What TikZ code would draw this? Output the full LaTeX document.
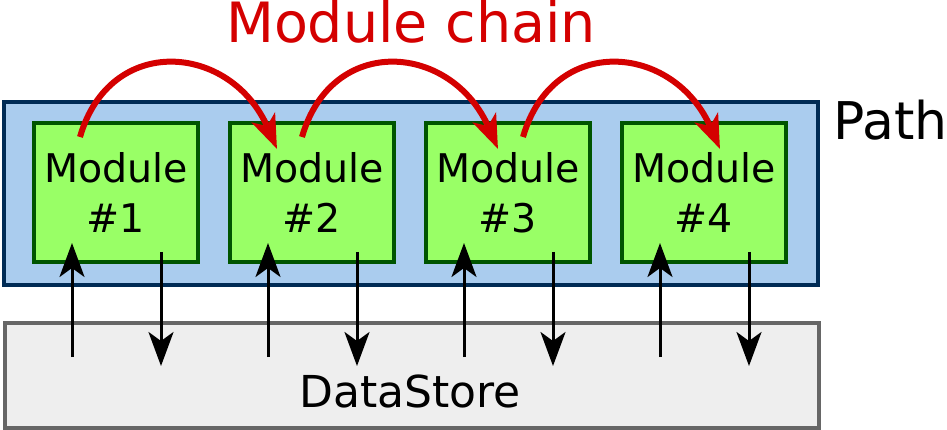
\documentclass[tikz,border=0pt]{standalone}
\usepackage{fontspec}
\setmainfont{DejaVu Sans}
\usetikzlibrary{arrows.meta,calc}
\definecolor{pathfill}{HTML}{AACCEE}
\definecolor{pathdraw}{HTML}{002B55}
\definecolor{modfill}{HTML}{99FF66}
\definecolor{moddraw}{HTML}{005500}
\definecolor{dsfill}{HTML}{EEEEEE}
\definecolor{dsdraw}{HTML}{666666}
\definecolor{chainred}{HTML}{D40000}
\begin{document}
\begin{tikzpicture}[x=1pt,y=-1pt,
  pathbox/.style={draw=pathdraw,fill=pathfill,line width=4pt,minimum width=814pt,minimum height=183pt,inner sep=0pt},
  modbox/.style={draw=moddraw,fill=modfill,line width=4pt,minimum width=164pt,minimum height=139pt,inner sep=0pt,align=center,font=\fontsize{39.5}{50}\selectfont},
  dsbox/.style={draw=dsdraw,fill=dsfill,line width=4pt,minimum width=814pt,minimum height=104.5pt,inner sep=0pt},
  lbl/.style={inner sep=0pt,anchor=base},
  io/.style={line width=3pt,-{Stealth[length=34pt,width=25pt,inset=9pt]}},
  chainarrow/.style={chainred,line width=6pt,-{Stealth[length=34pt,width=25pt,inset=9pt]}}]
\useasboundingbox (0,0) rectangle (947,430);
\fill[white] (0,0) rectangle (947,430);
% boxes
\node[dsbox] (ds) at (412,375.25) {};
\node[lbl,font=\fontsize{44}{50}\selectfont] (dslabel) at (410,407) {DataStore};
\node[pathbox] (path) at (411,193.5) {};
\node[lbl,anchor=base west,font=\fontsize{52}{60}\selectfont] (pathlabel) at (833,140) {Path};
\node[lbl,font=\fontsize{55.5}{60}\selectfont,text=chainred] (chainlabel) at (411,43) {Module chain};
% modules
\node[modbox] (m1) at (116,192.5) {Module\\\#1};
\node[modbox] (m2) at (312,192.5) {Module\\\#2};
\node[modbox] (m3) at (508,192.5) {Module\\\#3};
\node[modbox] (m4) at (704,192.5) {Module\\\#4};
% io arrows
\foreach \i in {0,1,2,3}{
  \coordinate (us\i) at (72+196*\i,357);
  \coordinate (ue\i) at (72+196*\i,243);
  \coordinate (ds\i) at (161+196*\i,252);
  \coordinate (de\i) at (161+196*\i,366);
  \draw[io] (us\i) -- (ue\i);
  \draw[io] (ds\i) -- (de\i);
}
% chain arcs
\coordinate (c1s) at (80,137);  \coordinate (c1e) at (277,149);
\coordinate (c2s) at (302,137); \coordinate (c2e) at (498,149);
\coordinate (c3s) at (523,137); \coordinate (c3e) at (720,149);
\draw[chainarrow] (c1s) .. controls ($(c1s)+(30,-104)$) and ($(c1e)+(-46,-106)$) .. (c1e);
\draw[chainarrow] (c2s) .. controls ($(c2s)+(30,-104)$) and ($(c2e)+(-46,-106)$) .. (c2e);
\draw[chainarrow] (c3s) .. controls ($(c3s)+(30,-104)$) and ($(c3e)+(-46,-106)$) .. (c3e);
\end{tikzpicture}
\end{document}
